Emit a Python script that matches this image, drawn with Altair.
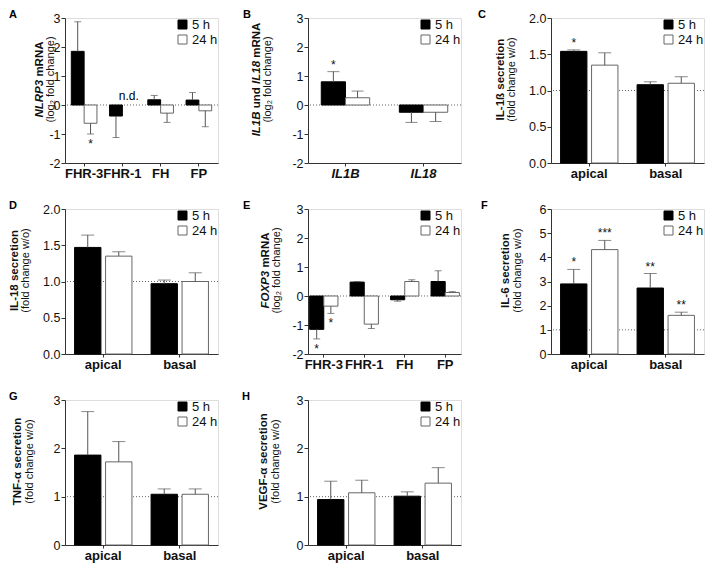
import altair as alt
import pandas as pd

FONT = "Liberation Sans"
TIMES = ["5 h", "24 h"]

# ---------------- data ----------------
A_cats = ["FHR-3", "FHR-1", "FH", "FP"]
A_5h = [1.85, -0.38, 0.18, 0.17]
A_5h_err = [1.02, 0.74, 0.15, 0.26]
A_24h = [-0.63, None, -0.28, -0.20]
A_24h_err = [0.37, None, 0.32, 0.55]
A_stars = [("FHR-3", "24 h", "*")]
A_nd = [("FHR-1", "24 h", "n.d.")]

B_cats = ["IL1B", "IL18"]
B_5h = [0.80, -0.25]
B_5h_err = [0.35, 0.35]
B_24h = [0.25, -0.25]
B_24h_err = [0.23, 0.32]
B_stars = [("IL1B", "5 h", "*")]

SEC_cats = ["apical", "basal"]

C_5h = [1.54, 1.08]
C_5h_err = [0.02, 0.04]
C_24h = [1.35, 1.10]
C_24h_err = [0.17, 0.09]
C_stars = [("apical", "5 h", "*")]

D_5h = [1.47, 0.97]
D_5h_err = [0.17, 0.05]
D_24h = [1.35, 1.00]
D_24h_err = [0.06, 0.12]
D_stars = []

E_cats = ["FHR-3", "FHR-1", "FH", "FP"]
E_5h = [-1.15, 0.48, -0.13, 0.50]
E_5h_err = [0.33, 0.02, 0.05, 0.37]
E_24h = [-0.35, -0.97, 0.50, 0.12]
E_24h_err = [0.25, 0.15, 0.06, 0.03]
E_stars = [("FHR-3", "5 h", "*"), ("FHR-3", "24 h", "*")]

F_5h = [2.90, 2.73]
F_5h_err = [0.60, 0.60]
F_24h = [4.32, 1.60]
F_24h_err = [0.38, 0.13]
F_stars = [("apical", "5 h", "*"), ("apical", "24 h", "***"),
           ("basal", "5 h", "**"), ("basal", "24 h", "**")]

G_5h = [1.86, 1.05]
G_5h_err = [0.90, 0.11]
G_24h = [1.72, 1.05]
G_24h_err = [0.42, 0.11]
G_stars = []

H_5h = [0.94, 1.01]
H_5h_err = [0.38, 0.09]
H_24h = [1.08, 1.28]
H_24h_err = [0.26, 0.32]
H_stars = []

LOG_TICKS = [-2, -1, 0, 1, 2, 3]
HALF_TICKS = [0, 0.5, 1, 1.5, 2]

# ---------------- layout ----------------
W, H = 153, 145
ONE = pd.DataFrame({"k": [0]})
INK = "#111111"

BOLD_W = {" ": 278, "(": 333, ")": 333, "-": 333, ".": 278, "/": 278,
          "A": 722, "B": 722, "F": 611, "I": 278, "L": 611, "N": 722,
          "O": 778, "P": 667, "R": 722, "X": 667,
          "d": 611, "m": 889, "n": 611, "u": 611}
for d in "0123456789":
    BOLD_W[d] = 556


def text_w(s, size):
    return sum(BOLD_W.get(ch, 600) for ch in s) / 1000.0 * size


def build(cats, v5, e5, v24, e24):
    rows = []
    for i, c in enumerate(cats):
        for t, vals, errs in (("5 h", v5, e5), ("24 h", v24, e24)):
            v = vals[i]
            if v is None:
                continue
            s = 1 if v >= 0 else -1
            rows.append(dict(cat=c, time=t, v=v, end=v + s * errs[i]))
    return pd.DataFrame(rows)


def vtext(s, x, y, size, bold=True, italic=False, align="center"):
    return alt.Chart(ONE).mark_text(
        angle=270, fontWeight="bold" if bold else "normal",
        fontStyle="italic" if italic else "normal", fontSize=size, font=FONT,
        align=align, baseline="middle", text=s
    ).encode(x=alt.value(x), y=alt.value(y), color=alt.value(INK))


def panel(letter, ldx, cats, v5, e5, v24, e24, ydom, yticks, yfmt, base,
          segs, t2, t1x, t2x, stars, pi, po, opi, cap, italic_x=False, nd=None):
    df = build(cats, v5, e5, v24, e24)
    xaxis = alt.Axis(title=None, labelAngle=0, labelFontWeight="bold",
                     labelFontSize=13, labelFontStyle="italic" if italic_x else "normal",
                     tickSize=3, labelPadding=1, domainColor="#333", tickColor="#333",
                     labelColor=INK, labelFont=FONT)
    common = dict(title=None, values=yticks, tickSize=4, labelPadding=1,
                  labelFontSize=12.5, domainColor="#333", tickColor="#333",
                  labelColor=INK, grid=False, labelFont=FONT)
    if yfmt:
        yaxis = alt.Axis(format=yfmt, **common)
    else:
        yaxis = alt.Axis(labelExpr="'' + datum.value", **common)
    xsc = alt.Scale(domain=cats, paddingInner=pi, paddingOuter=po)
    ysc = alt.Scale(domain=ydom, nice=False)
    X = alt.X("cat:N", sort=cats, scale=xsc, axis=xaxis)
    XO = alt.XOffset("time:N", sort=TIMES,
                     scale=alt.Scale(domain=TIMES, paddingInner=opi, paddingOuter=0))

    leg = alt.Legend(title=None, orient="top-right", offset=0, padding=0,
                     symbolType="square", symbolSize=81, symbolStrokeWidth=1,
                     labelFontSize=13, labelFont=FONT, labelColor=INK,
                     rowPadding=1, labelOffset=3)

    ref = alt.Chart(pd.DataFrame({"b": [base]})).mark_rule(
        strokeDash=[1, 2], color="#666", strokeWidth=1
    ).encode(y=alt.Y("b:Q", scale=ysc, axis=yaxis))

    bars = alt.Chart(df).mark_bar(strokeWidth=1).encode(
        x=X, xOffset=XO,
        y=alt.Y("v:Q", scale=ysc, axis=yaxis, stack=None),
        fill=alt.Fill("time:N", sort=TIMES,
                      scale=alt.Scale(domain=TIMES, range=["#000000", "#ffffff"]), legend=leg),
        stroke=alt.Stroke("time:N", sort=TIMES,
                          scale=alt.Scale(domain=TIMES, range=["#000000", "#666666"]), legend=leg),
    )
    err = alt.Chart(df).mark_rule(color="#555", strokeWidth=1).encode(
        x=X, xOffset=XO, y=alt.Y("v:Q", scale=ysc, axis=yaxis), y2="end:Q")
    caps = alt.Chart(df).mark_tick(color="#555", thickness=1, size=cap).encode(
        x=X, xOffset=XO, y=alt.Y("end:Q", scale=ysc, axis=yaxis))

    layers = [ref, bars, err, caps]

    srows = []
    for c, t, s in stars:
        r = df[(df.cat == c) & (df.time == t)].iloc[0]
        srows.append(dict(cat=c, time=t, s=s, y=r.end, up=r.v >= 0))
    if srows:
        sdf = pd.DataFrame(srows)
        up = sdf[sdf.up]
        dn = sdf[~sdf.up]
        if len(up):
            layers.append(alt.Chart(up).mark_text(baseline="bottom", dy=0, fontSize=12,
                                                  font=FONT).encode(
                x=X, xOffset=XO, y=alt.Y("y:Q", scale=ysc, axis=yaxis), text="s:N",
                color=alt.value(INK)))
        if len(dn):
            layers.append(alt.Chart(dn).mark_text(baseline="top", dy=5, fontSize=12,
                                                  font=FONT).encode(
                x=X, xOffset=XO, y=alt.Y("y:Q", scale=ysc, axis=yaxis), text="s:N",
                color=alt.value(INK)))
    if nd:
        ndf = pd.DataFrame([dict(cat=c, time=t, label=s, y=0.0) for c, t, s in nd])
        layers.append(alt.Chart(ndf).mark_text(baseline="bottom", dy=-2, fontSize=12,
                                               font=FONT, fill="#000000", opacity=1).encode(
            x=X, xOffset=XO, y=alt.Y("y:Q", scale=ysc, axis=yaxis),
            text=alt.Text("label:N"), fill=alt.value("#000000")))

    # y titles (first line bold, italic gene names; second line normal)
    ty = H / 2 - 11
    s1 = 11.5
    if len(segs) == 1:
        layers.append(vtext(segs[0][0], t1x, ty, s1))
    else:
        total = sum(text_w(s, s1) for s, _ in segs)
        pos = ty + total / 2          # bottom end of the line (text reads upward)
        sp = text_w(" ", s1)
        for s, it in segs:
            core = s.strip()
            lead = len(s) - len(s.lstrip(" "))
            trail = len(s) - len(s.rstrip(" "))
            pos -= lead * sp
            w = text_w(core, s1)
            if it:
                layers.append(vtext(core, t1x, pos - w, s1, italic=True, align="right"))
            else:
                layers.append(vtext(core, t1x, pos, s1, align="left"))
            pos -= w + trail * sp
    layers.append(vtext(t2, t2x, ty, 11, bold=False))

    layers.append(alt.Chart(ONE).mark_text(
        fontWeight="bold", fontSize=11, font=FONT, align="left", baseline="top",
        text=letter
    ).encode(x=alt.value(ldx), y=alt.value(-9), color=alt.value("#000000")))

    return alt.layer(*layers).properties(width=W, height=H)


LOG2 = "(log\u2082 fold change)"
WO = "(fold change w/o)"

pA = panel("A", -56, A_cats, A_5h, A_5h_err, A_24h, A_24h_err, [-2, 3], LOG_TICKS, None, 0,
           [("NLRP3", True), (" mRNA", False)], LOG2, -25, -14.5, A_stars,
           0.33, 0.165, 0.0, 7, nd=A_nd)
pB = panel("B", -65, B_cats, B_5h, B_5h_err, B_24h, B_24h_err, [-2, 3], LOG_TICKS, None, 0,
           [("IL1B", True), (" und ", False), ("IL18", True), (" mRNA", False)], LOG2,
           -51, -40, B_stars, 0.38, 0.17, 0.0, 12, italic_x=True)
pC = panel("C", -73, SEC_cats, C_5h, C_5h_err, C_24h, C_24h_err, [0, 2], HALF_TICKS, ".1f", 1,
           [("IL-1\u00df secretion", False)], WO, -50, -39, C_stars,
           0.25, 0.125, 0.15, 13)
pD = panel("D", -56, SEC_cats, D_5h, D_5h_err, D_24h, D_24h_err, [0, 2], HALF_TICKS, ".1f", 1,
           [("IL-18 secretion", False)], WO, -50, -39, D_stars,
           0.25, 0.125, 0.15, 13)
pE = panel("E", -65, E_cats, E_5h, E_5h_err, E_24h, E_24h_err, [-2, 3], LOG_TICKS, None, 0,
           [("FOXP3", True), (" mRNA", False)], LOG2, -42, -31, E_stars,
           0.3, 0.04, 0.0, 7)
pF = panel("F", -70, SEC_cats, F_5h, F_5h_err, F_24h, F_24h_err, [0, 6], [0, 1, 2, 3, 4, 5, 6], None, 1,
           [("IL-6 secretion", False)], WO, -45, -33.5, F_stars,
           0.25, 0.125, 0.15, 13)
pG = panel("G", -56, SEC_cats, G_5h, G_5h_err, G_24h, G_24h_err, [0, 3], [0, 1, 2, 3], None, 1,
           [("TNF-\u03b1 secretion", False)], WO, -47, -35.5, G_stars,
           0.25, 0.125, 0.15, 13)
pH = panel("H", -66, SEC_cats, H_5h, H_5h_err, H_24h, H_24h_err, [0, 3], [0, 1, 2, 3], None, 1,
           [("VEGF-\u03b1 secretion", False)], WO, -44, -32, H_stars,
           0.25, 0.125, 0.15, 13)

chart = alt.concat(
    pA, pB, pC, pD, pE, pF, pG, pH,
    columns=3, spacing={"row": 46, "column": 90}, bounds="flush",
).resolve_scale(
    fill="independent", stroke="independent", x="independent", y="independent",
    xOffset="independent",
).resolve_legend(
    fill="independent", stroke="independent",
).properties(padding=0).configure_view(stroke=None).configure(font=FONT)

chart.save("out.html", embed_options={"renderer": "svg", "actions": False})
